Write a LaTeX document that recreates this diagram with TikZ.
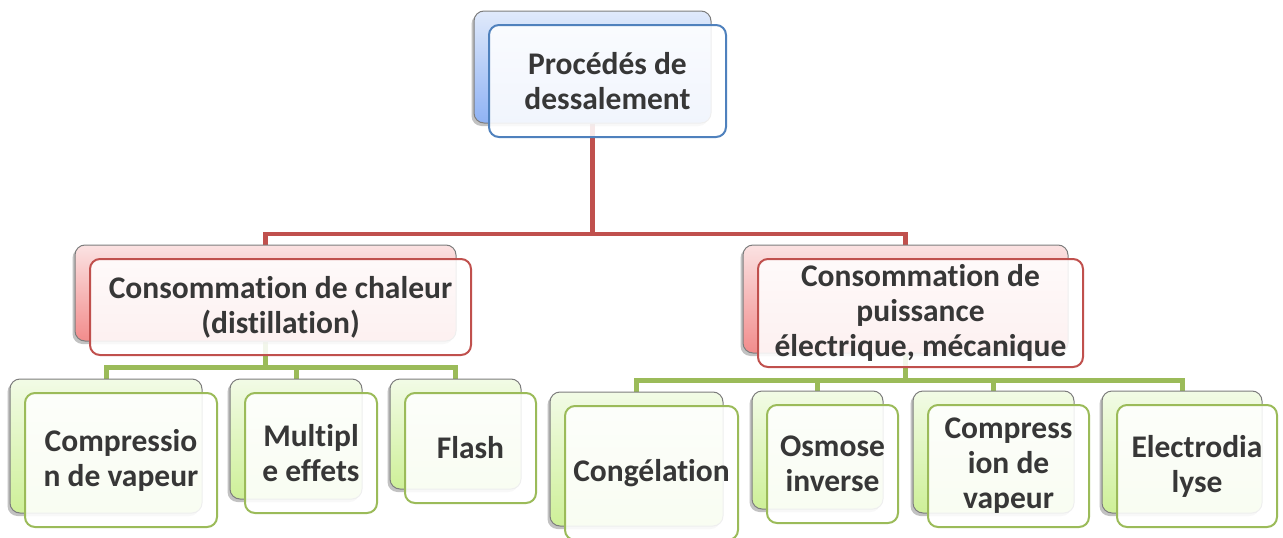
\documentclass[tikz,border=0pt]{standalone}
\usepackage{fontspec}
\setmainfont{Carlito}[Ligatures=NoCommon]
\usetikzlibrary{shadows}
\definecolor{cred}{RGB}{192,80,77}
\definecolor{cgreen}{RGB}{155,187,89}
\definecolor{cblue}{RGB}{79,129,189}
\definecolor{bluetop}{RGB}{224,234,251}
\definecolor{bluebot}{RGB}{143,178,244}
\definecolor{redtop}{RGB}{251,226,226}
\definecolor{redbot}{RGB}{242,140,140}
\definecolor{greentop}{RGB}{242,251,230}
\definecolor{greenbot}{RGB}{206,240,152}
\definecolor{ctext}{RGB}{55,55,55}
\definecolor{cgray}{RGB}{125,125,125}
\pgfdeclarelayer{bg}
\pgfsetlayers{bg,main}
\tikzset{
  frontbox/.style={draw, rounded corners=10pt, line width=2pt, fill=white,
    fill opacity=0.88, text opacity=1, align=center, inner sep=0pt,
    font=\bfseries\fontsize{31.5}{35}\selectfont, text=ctext},
  backbox/.style={draw=cgray, line width=1pt, rounded corners=10pt, inner sep=0pt,
    drop shadow={shadow xshift=-2.5pt, shadow yshift=-3pt, opacity=0.4, fill=black!60}},
  blueback/.style={backbox, top color=bluetop, bottom color=bluebot},
  redback/.style={backbox, top color=redtop, bottom color=redbot},
  greenback/.style={backbox, top color=greentop, bottom color=greenbot},
  redline/.style={draw=cred, line width=4.5pt},
  greenline/.style={draw=cgreen, line width=5pt},
}
% #1 name, #2 cx, #3 cy, #4 w, #5 h, #6 colour set (blue/red/green), #7 line colour, #8 text
\newcommand\mkpair[8]{%
  \node[#6back, minimum width=#4pt, minimum height=#5pt] (s#1) at ({#2-15},{#3-14}) {};
  \node[frontbox, draw=#7, minimum width=#4pt, minimum height=#5pt] (#1) at (#2,#3) {#8};
}
\begin{document}
\begin{tikzpicture}[x=1pt,y=-1pt]
\useasboundingbox (0,0) rectangle (1283,538);
\mkpair{top}{607.5}{81}{237}{112}{blue}{cblue}{Procédés de\\dessalement}
\mkpair{ca}{280.5}{307}{381}{96}{red}{cred}{Consommation de chaleur\\(distillation)}
\mkpair{cb}{920.5}{313}{325}{108}{red}{cred}{Consommation de\\puissance\\électrique, mécanique}
\mkpair{la}{121}{460}{192}{134}{green}{cgreen}{Compressio\\n de vapeur}
\mkpair{lb}{311}{453}{132}{120}{green}{cgreen}{Multipl\\e effets}
\mkpair{lc}{470.5}{448}{131}{110}{green}{cgreen}{Flash}
\mkpair{ld}{651.5}{473}{173}{134}{green}{cgreen}{Congélation}
\mkpair{le}{832.5}{464}{131}{118}{green}{cgreen}{Osmose\\inverse}
\mkpair{lf}{1008.5}{466}{161}{122}{green}{cgreen}{Compress\\ion de\\vapeur}
\mkpair{lg}{1197}{466}{160}{122}{green}{cgreen}{Electrodia\\lyse}
\coordinate (j0) at (592.5,234);
\coordinate (ja) at (265.5,367);
\coordinate (jb) at (905.5,380);
\begin{pgfonlayer}{bg}
  \draw[redline] (stop.south) -- (j0);
  \draw[redline] (sca.north) |- (j0) -| (scb.north);
  \draw[greenline] (sca.south) -- (ja);
  \draw[greenline] (sla.north) |- (ja) -| (slc.north);
  \draw[greenline] (slb.north) -- (slb.north |- ja);
  \draw[greenline] (scb.south) -- (jb);
  \draw[greenline] (sld.north) |- (jb) -| (slg.north);
  \draw[greenline] (sle.north) -- (sle.north |- jb);
  \draw[greenline] (slf.north) -- (slf.north |- jb);
\end{pgfonlayer}
\end{tikzpicture}
\end{document}
